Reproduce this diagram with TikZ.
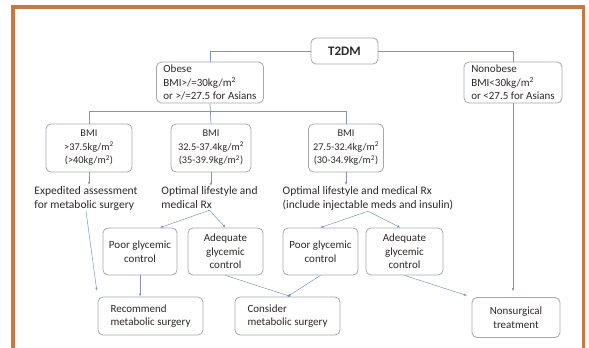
\documentclass[tikz,border=0pt]{standalone}
\usepackage{fontspec}
\setmainfont{Carlito}
\usepackage{xcolor}
\usetikzlibrary{positioning, arrows.meta, calc}

\definecolor{framec}{HTML}{C47A42}
\definecolor{linkc}{HTML}{8194BE}
\definecolor{boxc}{HTML}{A4A6B2}
\definecolor{textc}{HTML}{2E2828}

\begin{document}
\begin{tikzpicture}[x=1pt, y=-1pt,
        box/.style={draw=boxc, rounded corners=5pt, line width=0.8pt, font=\fontsize{11}{13.5}\selectfont, text=textc, align=center, inner sep=1pt},
        bmibox/.style={box, font=\fontsize{10.3}{13.5}\selectfont, minimum height=48pt},
        note/.style={font=\fontsize{11.5}{14}\selectfont, text=textc, align=left, inner sep=1pt},
        tree/.style={linkc, line width=0.7pt},
        link/.style={linkc, line width=0.5pt, -{Latex[length=3pt, width=2.5pt]}},
    ]
    \useasboundingbox (0,0) rectangle (589,348);

    % Frame
    \draw[framec, line width=3.5pt] (13,360) -- (13,7) -- (583.5,7) -- (583.5,360);

    % Top level
    \node[box, minimum width=67pt, minimum height=26pt, font=\bfseries\fontsize{13}{15}\selectfont] (t2dm) at (344.5,51) {T2DM};
    \node[box, align=left, minimum width=107pt, minimum height=41pt] (obese) at (210,82.5) {Obese\\BMI>/=30kg/m\textsuperscript{2}\\or >/=27.5 for Asians};
    \node[box, align=left, minimum width=98pt, minimum height=41pt] (nonobese) at (513,82.5) {Nonobese\\BMI<30kg/m\textsuperscript{2}\\or <27.5 for Asians};

    % BMI classes
    \node[bmibox, minimum width=86pt] (bmia) at (89,148) {BMI\\>37.5kg/m\textsuperscript{2}\\(>40kg/m\textsuperscript{2})};
    \node[bmibox, minimum width=80pt] (bmib) at (211,148) {BMI\\32.5-37.4kg/m\textsuperscript{2}\\(35-39.9kg/m\textsuperscript{2})};
    \node[bmibox, minimum width=75pt] (bmic) at (346,148) {BMI\\27.5-32.4kg/m\textsuperscript{2}\\(30-34.9kg/m\textsuperscript{2})};

    % Treatment notes
    \node[note] (notea) at (86,198) {Expedited assessment\\for metabolic surgery};
    \node[note] (noteb) at (209.5,198) {Optimal lifestyle and\\medical Rx};
    \node[note] (notec) at (368,198) {Optimal lifestyle and medical Rx\\(include injectable meds and insulin)};

    % Glycemic control
    \node[box, minimum width=74pt, minimum height=47pt] (poora) at (140,251.5) {Poor glycemic\\control};
    \node[box, minimum width=75pt, minimum height=47pt] (adeqa) at (225.5,251.5) {Adequate\\glycemic\\control};
    \node[box, minimum width=75pt, minimum height=47pt] (poorb) at (320.5,251.5) {Poor glycemic\\control};
    \node[box, minimum width=77pt, minimum height=47pt] (adeqb) at (404.5,251.5) {Adequate\\glycemic\\control};

    % Outcomes
    \node[box, align=left, minimum width=105pt, minimum height=38pt] (recommend) at (150.5,316) {Recommend\\metabolic surgery};
    \node[box, align=left, minimum width=105pt, minimum height=38pt] (consider) at (287.5,316) {Consider\\metabolic surgery};
    \node[box, minimum width=88pt, minimum height=40pt] (nonsurg) at (516,317.5) {Nonsurgical\\treatment};

    % Tree lines
    \draw[tree] (t2dm.west) -| (obese.north);
    \draw[tree] (t2dm.east) -| (nonobese.north);
    \draw[tree] (obese.south) -- (bmib.north);
    \draw[tree] (bmia.north) -- ++(0,-12) -| (bmic.north);

    % Arrows
    \draw[link] (bmia.south) -- (bmia.south |- notea.north);
    \draw[link] (bmib.south) -- (bmib.south |- noteb.north);
    \draw[link] (bmic.south) -- (bmic.south |- notec.north);
    \draw[link] (noteb.south) -- (poora.50);
    \draw[link] (noteb.south) -- (adeqa.north);
    \draw[link] (notec.south) -- (poorb.north);
    \draw[link] (notec.south) -- (adeqb.100);
    \draw[link, shorten >=6pt] (notea.south) -- (recommend.north west);
    \draw[link] (poora.south) -- (poora.south |- recommend.north);
    \draw[link] (adeqa.south) -- (consider.80);
    \draw[link] (poorb.south) -- (consider.north);
    \draw[link, shorten >=5pt] (adeqb.south) -- (nonsurg.north west);
    \draw[link, shorten >=6pt] (nonobese.south) -- (nonsurg.north -| nonobese.south);
\end{tikzpicture}
\end{document}
